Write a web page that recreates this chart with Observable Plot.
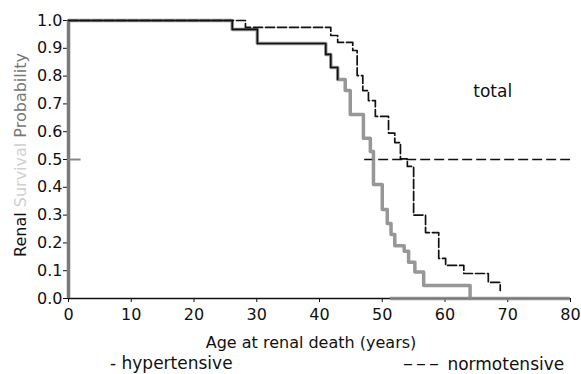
<!DOCTYPE html>
<html>
<head>
<meta charset="utf-8">
<script src="https://cdn.jsdelivr.net/npm/d3@7"></script>
<script src="https://cdn.jsdelivr.net/npm/@observablehq/plot@0.6"></script>
<style>
  body { margin: 0; background: #fff; font-family: "DejaVu Sans", sans-serif; }
  #wrap { position: relative; width: 581px; }
  #legend { position: relative; width: 581px; height: 22px; font-size: 17px; color: #111; }
  #legend > span { position: absolute; top: 0; line-height: 22px; white-space: nowrap; }
  .dash { font-size: 20px; letter-spacing: 3px; }
</style>
</head>
<body>
<div id="wrap"></div>
<div id="legend">
  <span style="left:110px">- hypertensive</span>
  <span style="left:403px"><span class="dash">–––</span> normotensive</span>
</div>
<script>
// Kaplan–Meier steps: age at event (years) and survival probability after it
const hyperAge  = [0, 26.1, 30.1, 41.0, 41.8, 42.9, 44.1, 44.9, 47.0, 48.1, 48.6, 50.0, 50.8, 51.4, 52.0, 53.5, 54.2, 55.2, 56.6, 64.0];
const hyperSurv = [1.0, 0.968, 0.917, 0.878, 0.831, 0.788, 0.748, 0.662, 0.576, 0.529, 0.41, 0.32, 0.27, 0.23, 0.19, 0.17, 0.13, 0.095, 0.047, 0.0];
const normoAge  = [0, 28.2, 41.8, 42.9, 45.3, 46.0, 46.9, 47.8, 48.9, 51.0, 52.0, 52.9, 54.0, 55.0, 56.9, 59.0, 60.1, 63.0, 66.9, 68.8];
const normoSurv = [1.0, 0.975, 0.946, 0.921, 0.892, 0.802, 0.748, 0.712, 0.655, 0.595, 0.561, 0.502, 0.475, 0.30, 0.237, 0.144, 0.119, 0.09, 0.058, 0.029];
const blackUntil = 42.9;           // hypertensive curve prints thin black above this age
const medianLevel = [0.5];
const medianFrom = [47.2];
const medianTo = [80];
const baselineFrom = [51.3];       // grey smear along the x axis
const xTicks = [0, 10, 20, 30, 40, 50, 60, 70, 80];
const yTicks = [0, 0.1, 0.2, 0.3, 0.4, 0.5, 0.6, 0.7, 0.8, 0.9, 1.0];
const annotation = [{age: 67.6, p: 0.745, text: "total"}];
const xLabel = "Age at renal death (years)";

const hyper = hyperAge.map((a, i) => ({age: a, p: hyperSurv[i]}));
const normo = normoAge.map((a, i) => ({age: a, p: normoSurv[i]}));
const median = medianLevel.map((p, i) => ({p, x1: medianFrom[i], x2: medianTo[i]}));
const base = baselineFrom.map(a => ({x1: a, x2: xTicks[xTicks.length - 1], p: 0}));

const W = 581, H = 352, mL = 68, mR = 11, mT = 20, mB = 54;
const chart = Plot.plot({
  width: W, height: H,
  marginLeft: mL, marginRight: mR, marginTop: mT, marginBottom: mB,
  style: {fontFamily: "DejaVu Sans, sans-serif", fontSize: "16px", color: "#111", background: "#fff"},
  x: {domain: [0, 80], ticks: xTicks},
  y: {domain: [0, 1], ticks: yTicks},
  marks: [
    Plot.axisX({ticks: xTicks, tickSize: 4, tickPadding: 6, label: null, fontSize: 16}),
    Plot.axisY({ticks: yTicks, tickSize: 5, tickPadding: 1, tickFormat: d3.format(".1f"), label: null, fontSize: 16}),
    Plot.ruleY([0], {stroke: "#111", strokeWidth: 1.3}),
    Plot.ruleY(base, {x1: "x1", x2: "x2", y: "p", stroke: "#8a8a8a", strokeWidth: 3.5, strokeOpacity: 0.85}),
    Plot.ruleX([0], {y1: 0, y2: 1, stroke: "#7a7a7a", strokeWidth: 3.5}),
    Plot.ruleY(medianLevel, {x1: 0, x2: 2, stroke: "#888", strokeWidth: 2}),
    Plot.ruleY(median, {x1: "x1", x2: "x2", y: "p", stroke: "#111", strokeWidth: 1.5, strokeDasharray: "10,4"}),
    Plot.line(hyper, {x: "age", y: "p", curve: "step-after", stroke: "#8c8c8c", strokeWidth: 3.5, strokeOpacity: 0.9}),
    Plot.line(hyper, {filter: d => d.age <= blackUntil, x: "age", y: "p", curve: "step-after", stroke: "#111", strokeWidth: 1.6}),
    Plot.line(normo, {x: "age", y: "p", curve: "step-after", stroke: "#111", strokeWidth: 1.7, strokeDasharray: "9,3"}),
    Plot.text(annotation, {x: "age", y: "p", text: "text", fontSize: 17, fill: "#111"})
  ]
});
document.getElementById("wrap").appendChild(chart);

const svg = d3.select(chart);
svg.append("text")
  .attr("x", (mL + W - mR) / 2 - 8).attr("y", 342).attr("dy", "0.35em")
  .attr("text-anchor", "middle").attr("font-size", 16).attr("fill", "#111")
  .text(xLabel);
const yl = svg.append("text")
  .attr("transform", `translate(20,${(mT + H - mB) / 2 - 4}) rotate(-90)`)
  .attr("text-anchor", "middle").attr("dy", "0.35em").attr("font-size", 16);
yl.append("tspan").attr("fill", "#111").text("Renal ");
yl.append("tspan").attr("fill", "#d0d0d0").text("Survival");
yl.append("tspan").attr("fill", "#777").text(" Probability");
</script>
</body>
</html>
